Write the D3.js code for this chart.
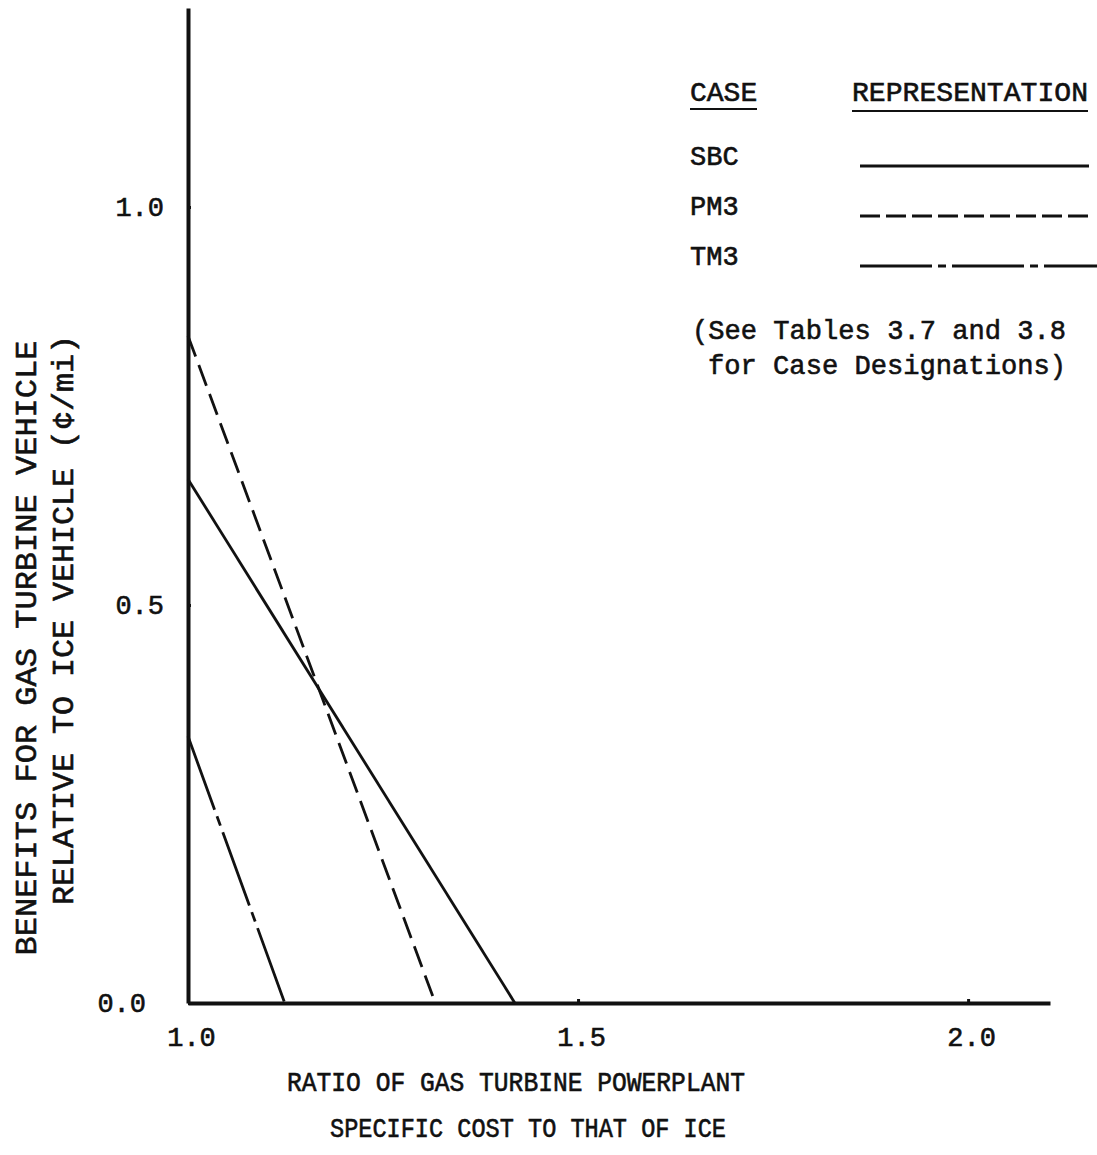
<!DOCTYPE html>
<html>
<head>
<meta charset="utf-8">
<script src="https://cdn.jsdelivr.net/npm/d3@7"></script>
<style>
  body { margin: 0; background: #fff; }
  svg text { font-family: "Courier New", Courier, "Liberation Mono", monospace; fill: #111; stroke: #111; stroke-width: 0.6px; }
</style>
</head>
<body>
<div class="graph-container"></div>
<script>
const svgWidth = 1097;
const svgHeight = 1155;

// data: each case is a straight line from x = 1.0 down to zero benefit
const cases = ["SBC", "PM3", "TM3"];
const caseX = [[1.0, 1.419], [1.0, 1.317], [1.0, 1.124]];
const caseY = [[0.658, 0], [0.838, 0], [0.335, 0]];
const xTicks = [1.0, 1.5, 2.0];
const yTicks = [0.0, 0.5, 1.0];

const dashes = { SBC: null, PM3: "22,9", TM3: "78,7,10,7" };
const legendDashes = { SBC: null, PM3: "20,6", TM3: "72,6,8,6" };

const xScale = d3.scaleLinear().domain([1, 2.105]).range([188, 1050]);
const yScale = d3.scaleLinear().domain([0, 1.25]).range([1003, 8]);

const svg = d3.select(".graph-container")
    .append("svg")
    .attr("width", svgWidth)
    .attr("height", svgHeight);

// axes
const xAxis = d3.axisBottom(xScale)
    .tickValues(xTicks)
    .tickSize(-4)
    .tickSizeOuter(0)
    .tickPadding(24)
    .tickFormat(d3.format(".1f"));
const gx = svg.append("g")
    .attr("transform", `translate(0,${yScale(0)})`)
    .call(xAxis);
gx.select(".domain").attr("stroke-width", 4).attr("stroke", "#111");
gx.selectAll(".tick line").attr("stroke-width", 3).attr("stroke", "#111");
gx.selectAll(".tick text")
    .style("font-size", "27px")
    .attr("dx", 3);

const yAxis = d3.axisLeft(yScale)
    .tickValues(yTicks)
    .tickSize(-3)
    .tickSizeOuter(0)
    .tickPadding(24)
    .tickFormat(d3.format(".1f"));
const gy = svg.append("g")
    .attr("transform", `translate(${xScale(1)},0)`)
    .call(yAxis);
gy.select(".domain").attr("stroke-width", 4).attr("stroke", "#111");
gy.selectAll(".tick line").attr("stroke-width", 3).attr("stroke", "#111");
gy.selectAll(".tick text")
    .style("font-size", "27px")
    .attr("dx", (d) => d === 0 ? -18 : 0);

// case lines
const line = d3.line()
    .x((d) => xScale(d[0]))
    .y((d) => yScale(d[1]));

cases.forEach((name, i) => {
    const pts = caseX[i].map((x, j) => [x, caseY[i][j]]);
    svg.append("path")
        .datum(pts)
        .attr("fill", "none")
        .attr("stroke", "#111")
        .attr("stroke-width", 2.8)
        .attr("stroke-dasharray", dashes[name])
        .attr("d", line);
});

// legend
const legend = svg.append("g");
legend.append("text").attr("x", 690).attr("y", 101).style("font-size", "28px").text("CASE");
legend.append("line").attr("x1", 690).attr("x2", 757).attr("y1", 109).attr("y2", 109)
    .attr("stroke", "#111").attr("stroke-width", 2);
legend.append("text").attr("x", 852).attr("y", 101).style("font-size", "28px")
    .attr("textLength", 236).attr("lengthAdjust", "spacingAndGlyphs").text("REPRESENTATION");
legend.append("line").attr("x1", 852).attr("x2", 1088).attr("y1", 111).attr("y2", 111)
    .attr("stroke", "#111").attr("stroke-width", 2);

cases.forEach((name, i) => {
    const yy = 166 + i * 50;
    legend.append("text")
        .attr("x", 690).attr("y", yy - 1)
        .style("font-size", "27px")
        .text(name);
    legend.append("line")
        .attr("x1", 860).attr("x2", i === 2 ? 1097 : 1089)
        .attr("y1", yy).attr("y2", yy)
        .attr("stroke", "#111")
        .attr("stroke-width", 3)
        .attr("stroke-dasharray", legendDashes[name]);
});

legend.append("text").attr("x", 692).attr("y", 339).style("font-size", "28px")
    .attr("textLength", 374).attr("lengthAdjust", "spacingAndGlyphs")
    .text("(See Tables 3.7 and 3.8");
legend.append("text").attr("x", 708).attr("y", 374).style("font-size", "28px")
    .attr("textLength", 358).attr("lengthAdjust", "spacingAndGlyphs")
    .text("for Case Designations)");

// axis titles
svg.append("text")
    .attr("transform", "translate(36,648) rotate(-90)")
    .attr("text-anchor", "middle")
    .attr("textLength", 615)
    .attr("lengthAdjust", "spacingAndGlyphs")
    .style("font-size", "30px")
    .text("BENEFITS FOR GAS TURBINE VEHICLE");
svg.append("text")
    .attr("transform", "translate(73,620) rotate(-90)")
    .attr("text-anchor", "middle")
    .attr("textLength", 570)
    .attr("lengthAdjust", "spacingAndGlyphs")
    .style("font-size", "30px")
    .text("RELATIVE TO ICE VEHICLE (¢/mi)");

svg.append("text")
    .attr("x", 516).attr("y", 1091)
    .attr("text-anchor", "middle")
    .attr("textLength", 458)
    .attr("lengthAdjust", "spacingAndGlyphs")
    .style("font-size", "27px")
    .text("RATIO OF GAS TURBINE POWERPLANT");
svg.append("text")
    .attr("x", 528).attr("y", 1137)
    .attr("text-anchor", "middle")
    .attr("textLength", 396)
    .attr("lengthAdjust", "spacingAndGlyphs")
    .style("font-size", "27px")
    .text("SPECIFIC COST TO THAT OF ICE");
</script>
</body>
</html>
